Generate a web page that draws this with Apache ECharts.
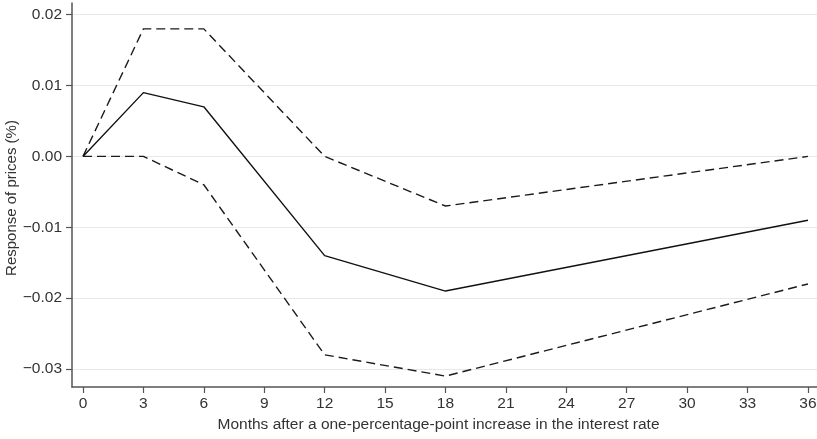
<!DOCTYPE html>
<html>
<head>
<meta charset="utf-8">
<script src="https://cdn.jsdelivr.net/npm/echarts@6/dist/echarts.min.js"></script>
<style>
html,body{margin:0;padding:0;background:#fff;}
#chart{width:817px;height:439px;}
</style>
</head>
<body>
<div id="chart"></div>
<script>
// Data
const months = [0, 3, 6, 12, 18, 36];
const responseEstimate = [0, 0.009, 0.007, -0.014, -0.019, -0.009];
const upperBand = [0, 0.018, 0.018, 0.000, -0.007, 0.000];
const lowerBand = [0, 0.000, -0.004, -0.028, -0.031, -0.018];
const xTicks = [0, 3, 6, 9, 12, 15, 18, 21, 24, 27, 30, 33, 36];
const yTicks = [-0.03, -0.02, -0.01, 0.00, 0.01, 0.02];

const pairs = (ys) => months.map((m, i) => [m, ys[i]]);
const fmtY = (v) => (v < -1e-9 ? '\u2212' : '') + Math.abs(v).toFixed(2);
const font = 'Liberation Sans, Arial, Helvetica, sans-serif';
const axisColor = '#555';
const textColor = '#333';
const fs = 15.5;

const chart = echarts.init(document.getElementById('chart'), null, {renderer: 'canvas'});
chart.setOption({
  animation: false,
  backgroundColor: '#fff',
  grid: {left: 72, right: 0, top: 3, bottom: 52, containLabel: false, outerBoundsMode: 'none'},
  xAxis: {
    type: 'value',
    min: -0.546,
    max: 36.45,
    name: 'Months after a one-percentage-point increase in the interest rate',
    nameLocation: 'middle',
    nameGap: 30,
    nameMoveOverlap: false,
    nameTextStyle: {fontFamily: font, fontSize: fs, color: textColor, padding: [0, 12, 0, 0]},
    axisLine: {show: true, onZero: false, lineStyle: {color: axisColor, width: 1.5}},
    axisTick: {show: true, length: 6, customValues: xTicks, lineStyle: {color: axisColor, width: 1.2}},
    axisLabel: {customValues: xTicks, margin: 9, fontFamily: font, fontSize: fs, color: textColor},
    splitLine: {show: false}
  },
  yAxis: {
    type: 'value',
    min: -0.03254,
    max: 0.02165,
    name: 'Response of prices (%)',
    nameLocation: 'middle',
    nameGap: 53,
    nameMoveOverlap: false,
    nameTextStyle: {fontFamily: font, fontSize: 15, color: textColor, padding: [0, 6, 0, 0]},
    axisLine: {show: true, onZero: false, lineStyle: {color: axisColor, width: 1.5}},
    axisTick: {show: true, length: 6, customValues: yTicks, lineStyle: {color: axisColor, width: 1.2}},
    axisLabel: {customValues: yTicks, margin: 10, fontFamily: font, fontSize: fs, color: textColor, formatter: fmtY},
    splitLine: {show: false}
  },
  series: [
    {
      name: 'grid',
      type: 'line',
      data: [[0, 0]],
      symbol: 'none',
      lineStyle: {opacity: 0},
      silent: true,
      z: 0,
      markLine: {
        silent: true,
        z: 0,
        symbol: ['none', 'none'],
        label: {show: false},
        lineStyle: {color: '#e8e8e8', type: 'solid', width: 1.2},
        data: yTicks.map(v => ({yAxis: v}))
      }
    },
    {
      name: 'Upper',
      type: 'line',
      data: pairs(upperBand),
      symbol: 'none',
      z: 3,
      lineStyle: {color: '#1a1a1a', width: 1.4, type: [9, 5]}
    },
    {
      name: 'Lower',
      type: 'line',
      data: pairs(lowerBand),
      symbol: 'none',
      z: 3,
      lineStyle: {color: '#1a1a1a', width: 1.4, type: [9, 5]}
    },
    {
      name: 'Response',
      type: 'line',
      data: pairs(responseEstimate),
      symbol: 'none',
      z: 4,
      lineStyle: {color: '#111', width: 1.4, type: 'solid'}
    }
  ]
});
</script>
</body>
</html>
